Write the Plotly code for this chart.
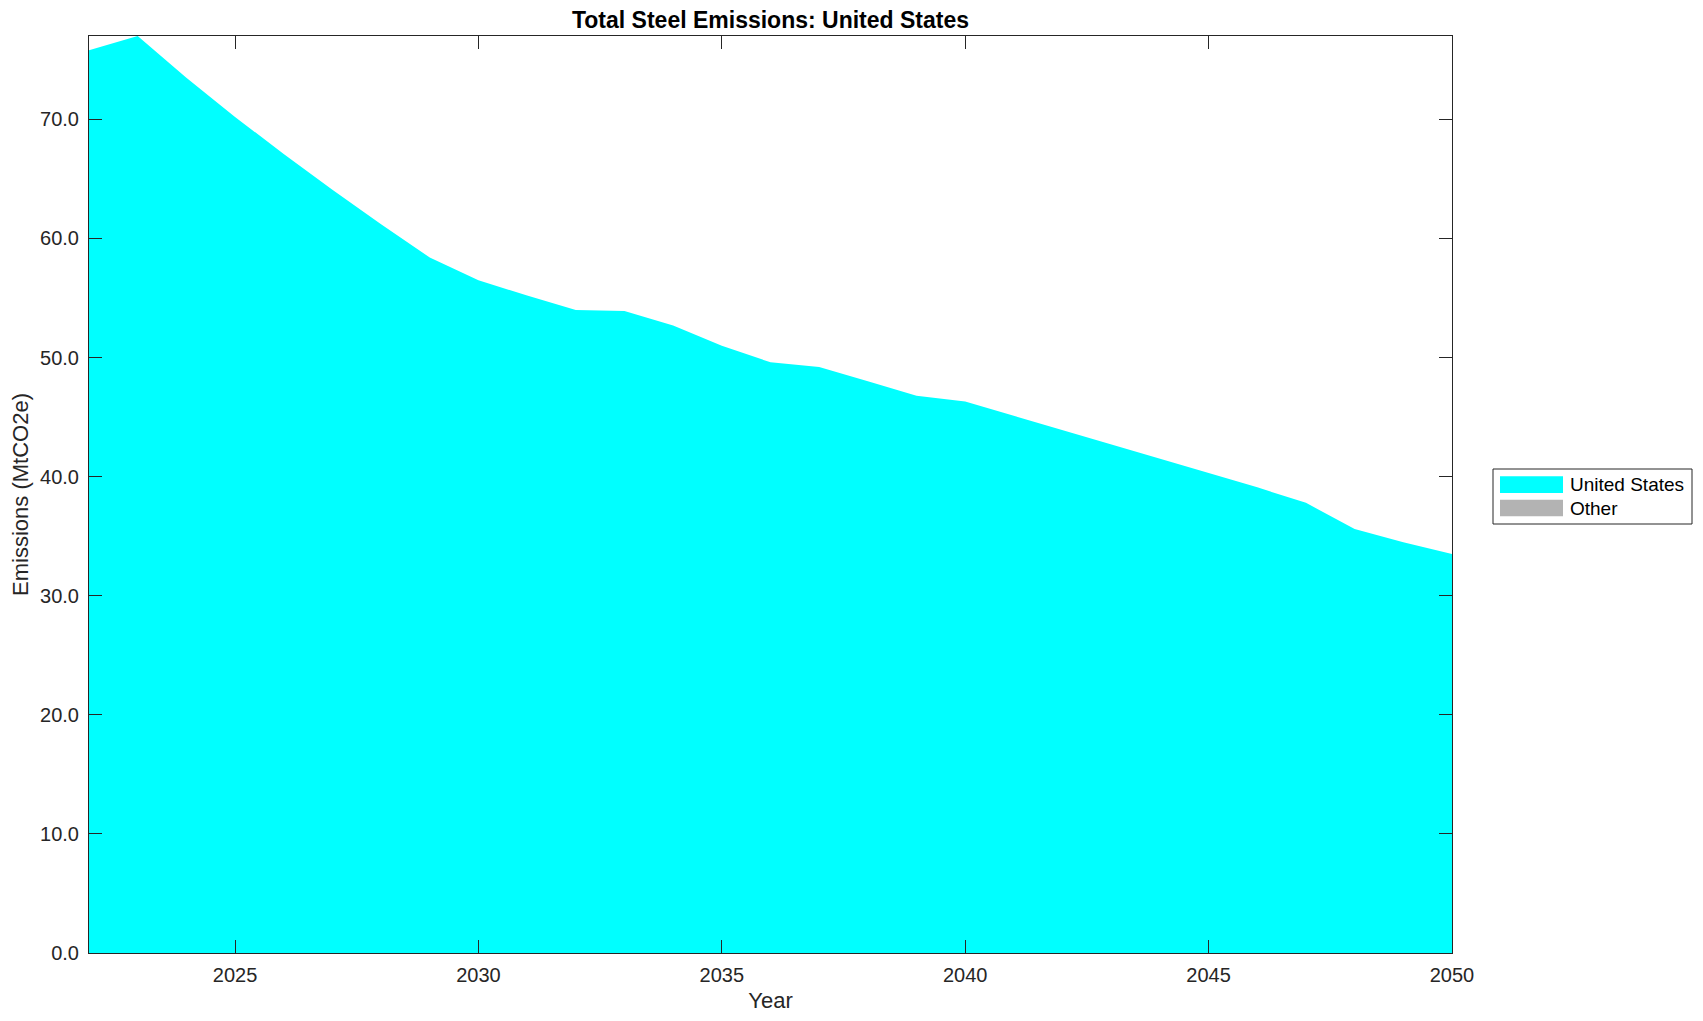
import plotly.graph_objects as go

years = list(range(2022, 2051))
us_emissions = [75.8, 77.0, 73.5, 70.2, 67.1, 64.1, 61.2, 58.4, 56.5, 55.2,
                54.0, 53.9, 52.7, 51.0, 49.6, 49.2, 48.0, 46.8, 46.3, 45.1,
                43.9, 42.7, 41.5, 40.3, 39.1, 37.8, 35.6, 34.5, 33.5]
other_emissions = [0.0] * len(years)
series_names = ["United States", "Other"]
series_colors = ["#00FFFF", "#B3B3B3"]
y_ticks = [0, 10, 20, 30, 40, 50, 60, 70]
x_ticks = [2025, 2030, 2035, 2040, 2045, 2050]

# page body has an 8px margin; work in screen coordinates and shift
OFF = 8
SW, SH = 1703, 1021
W, H = SW - 2 * OFF, SH - 2 * OFF
L, R, T, B = 89, 1452, 36, 953          # plot area in screen px
FONT = "Liberation Sans, Arial, Helvetica, sans-serif"
AX = "#262626"

fig = go.Figure()
for name, vals, col in zip(series_names, [us_emissions, other_emissions], series_colors):
    fig.add_trace(go.Scatter(
        x=years, y=vals, name=name, stackgroup="one", mode="lines",
        line=dict(width=0, color=col), fillcolor=col, showlegend=False,
    ))

pw, ph = R - L, B - T
def px(x): return (x - L) / pw
def py(y): return (B - y) / ph

LY = 2  # legend vertical nudge
shapes = [
    dict(type="rect", xref="paper", yref="paper", x0=px(1493), x1=px(1692),
         y0=py(522 + LY), y1=py(467 + LY), line=dict(color=AX, width=1), fillcolor="white"),
]
annotations = []
rows = [(474.3, 491.0), (497.7, 514.3)]
for (y0, y1), name, col in zip(rows, series_names, series_colors):
    shapes.append(dict(type="rect", xref="paper", yref="paper", x0=px(1500), x1=px(1563),
                       y0=py(y1 + LY), y1=py(y0 + LY), line=dict(width=0), fillcolor=col))
    annotations.append(dict(xref="paper", yref="paper", x=px(1568), y=py((y0 + y1) / 2 + LY),
                            text=name, showarrow=False, xanchor="left", yanchor="middle",
                            font=dict(family=FONT, size=19, color="#000000")))

fig.update_layout(
    width=W, height=H,
    margin=dict(l=L - OFF, r=W - (R - OFF), t=T - OFF, b=H - (B - OFF), pad=0,
                autoexpand=False),
    paper_bgcolor="white", plot_bgcolor="white",
    title=dict(text="<b>Total Steel Emissions: United States</b>",
               x=((L + R) / 2 - OFF) / W, xanchor="center", xref="container", yref="container",
               y=1 - (20 - OFF) / H, yanchor="middle",
               font=dict(family=FONT, size=23, color="#000000")),
    font=dict(family=FONT, size=20, color=AX),
    shapes=shapes, annotations=annotations,
    showlegend=False,
)
fig.update_xaxes(
    range=[2022, 2050], tickvals=x_ticks, ticks="inside", ticklen=13, tickcolor=AX,
    showline=True, linecolor=AX, linewidth=1, mirror="ticks", showgrid=False, zeroline=False,
    ticklabelstandoff=4, automargin=False,
    title=dict(text="Year", standoff=13, font=dict(size=22, color=AX)),
    tickfont=dict(size=20, color=AX),
)
fig.update_yaxes(
    range=[0, 77], tickvals=y_ticks, tickformat=".1f", ticks="inside", ticklen=13, tickcolor=AX,
    showline=True, linecolor=AX, linewidth=1, mirror="ticks", showgrid=False, zeroline=False,
    ticklabelstandoff=5, automargin=False,
    title=dict(text="Emissions (MtCO2e)", standoff=9, font=dict(size=22, color=AX)),
    tickfont=dict(size=20, color=AX),
)
fig.write_html("out.html")
